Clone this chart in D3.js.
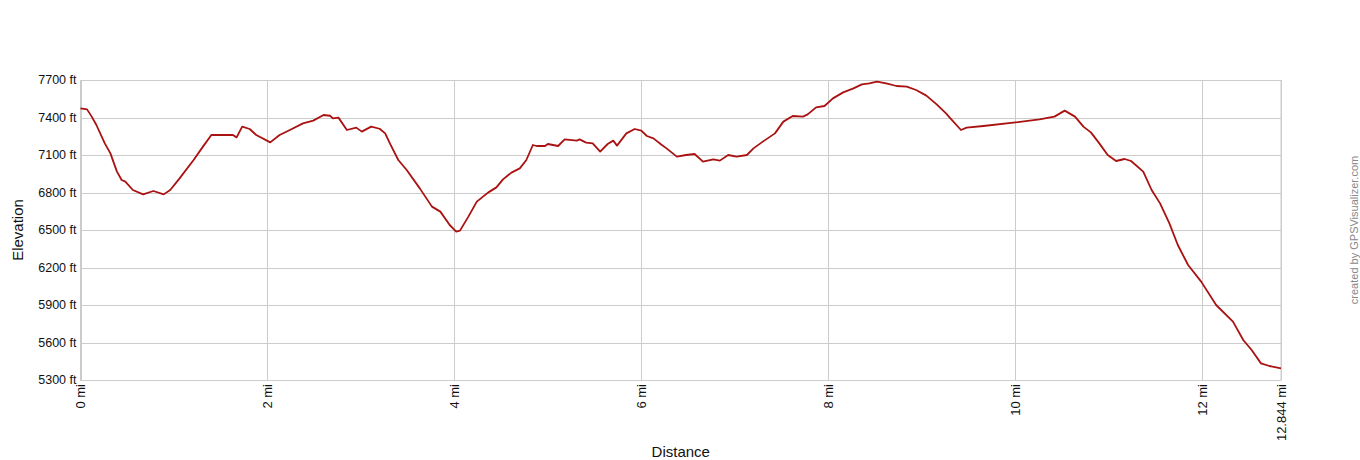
<!DOCTYPE html>
<html>
<head>
<meta charset="utf-8">
<script src="https://cdn.jsdelivr.net/npm/d3@7"></script>
<style>
  body { margin: 0; background: #fff; }
  text { font-family: "Liberation Sans", Arial, sans-serif; }
</style>
</head>
<body>
<div id="chart"></div>
<script>
// distance along the track (mi) and elevation (ft)
const distance = [
  0.00, 0.07, 0.12, 0.17, 0.26, 0.32, 0.39, 0.44, 0.48, 0.56, 0.67, 0.78, 0.89, 0.96,
  1.06, 1.21, 1.31, 1.40, 1.53, 1.63, 1.67, 1.73, 1.81, 1.88, 2.03, 2.13, 2.24, 2.38,
  2.49, 2.60, 2.67, 2.70, 2.76, 2.85, 2.95, 3.01, 3.11, 3.20, 3.26, 3.31, 3.40, 3.49,
  3.63, 3.76, 3.85, 3.95, 4.02, 4.06, 4.15, 4.24, 4.36, 4.45, 4.52, 4.61, 4.70, 4.77,
  4.84, 4.88, 4.97, 5.00, 5.11, 5.18, 5.31, 5.34, 5.41, 5.48, 5.56, 5.64, 5.70, 5.74,
  5.84, 5.93, 6.00, 6.06, 6.13, 6.22, 6.27, 6.38, 6.48, 6.57, 6.66, 6.77, 6.84, 6.93,
  7.02, 7.13, 7.20, 7.30, 7.43, 7.52, 7.62, 7.73, 7.78, 7.87, 7.96, 8.05, 8.16, 8.27,
  8.36, 8.44, 8.52, 8.62, 8.73, 8.84, 8.94, 9.05, 9.16, 9.26, 9.30, 9.42, 9.48, 9.66,
  9.98, 10.26, 10.42, 10.53, 10.64, 10.73, 10.81, 10.90, 10.99, 11.08, 11.17, 11.24,
  11.37, 11.46, 11.55, 11.65, 11.74, 11.85, 11.99, 12.15, 12.33, 12.44, 12.53, 12.63,
  12.72, 12.844
];
const elevation = [
  7473, 7465, 7407, 7340, 7193, 7113, 6967, 6900, 6887, 6820, 6785, 6812, 6785, 6820,
  6913, 7060, 7167, 7260, 7260, 7260, 7241, 7327, 7308, 7260, 7201, 7260, 7300, 7353,
  7375, 7420, 7414, 7393, 7399, 7300, 7319, 7287, 7327, 7310, 7273, 7193, 7060, 6980,
  6833, 6687, 6647, 6540, 6487, 6495, 6607, 6727, 6799, 6841, 6905, 6959, 6993, 7060,
  7180, 7172, 7172, 7188, 7172, 7225, 7215, 7225, 7199, 7193, 7127, 7188, 7215, 7175,
  7273, 7308, 7295, 7252, 7233, 7180, 7153, 7087, 7100, 7108, 7047, 7065, 7055, 7100,
  7087, 7100, 7153, 7207, 7273, 7367, 7412, 7407, 7425, 7481, 7492, 7553, 7601, 7633,
  7665, 7673, 7687, 7673, 7652, 7647, 7620, 7575, 7505, 7433, 7399, 7300, 7319, 7332,
  7359, 7385, 7407, 7455, 7407, 7327, 7281, 7193, 7100, 7052, 7068, 7052,
  6967, 6820, 6713, 6553, 6380, 6220, 6087, 5900, 5767, 5620, 5540, 5433,
  5412, 5393
];

const xTicks = [0, 2, 4, 6, 8, 10, 12, 12.844];
const yTicks = [5300, 5600, 5900, 6200, 6500, 6800, 7100, 7400, 7700];

const points = distance.map((d, i) => ({ dist: d, elev: elevation[i] }));

// Set the dimensions and margins of the graph
const W = 1360, H = 460;
const margin = { top: 80, right: 79, bottom: 80, left: 80.5 };
const width = W - margin.left - margin.right,
  height = H - margin.top - margin.bottom;

const svg = d3
  .select("#chart")
  .append("svg")
  .attr("width", W)
  .attr("height", H);

const x = d3.scaleLinear().domain([0, 12.844]).range([margin.left, margin.left + width]);
const y = d3.scaleLinear().domain([5300, 7700]).range([margin.top + height, margin.top]);

// grid lines
svg
  .append("g")
  .selectAll("line")
  .data(yTicks)
  .enter()
  .append("line")
  .attr("x1", margin.left)
  .attr("x2", margin.left + width)
  .attr("y1", (d) => Math.round(y(d)) + 0.5)
  .attr("y2", (d) => Math.round(y(d)) + 0.5)
  .attr("stroke", "#cccccc");

svg
  .append("g")
  .selectAll("line")
  .data(xTicks)
  .enter()
  .append("line")
  .attr("x1", (d) => Math.round(x(d)) + 0.5)
  .attr("x2", (d) => Math.round(x(d)) + 0.5)
  .attr("y1", margin.top)
  .attr("y2", margin.top + height)
  .attr("stroke", "#cccccc");

// box around plot
svg
  .append("rect")
  .attr("x", margin.left)
  .attr("y", margin.top + 0.5)
  .attr("width", width)
  .attr("height", height)
  .attr("fill", "none")
  .attr("stroke", "#cccccc");

// y tick labels
svg
  .append("g")
  .selectAll("text")
  .data(yTicks)
  .enter()
  .append("text")
  .attr("x", margin.left - 4)
  .attr("y", (d) => y(d))
  .attr("dy", "0.35em")
  .attr("text-anchor", "end")
  .attr("font-size", 12.5)
  .attr("fill", "#111")
  .text((d) => d + " ft");

// x tick labels (rotated)
svg
  .append("g")
  .selectAll("text")
  .data(xTicks)
  .enter()
  .append("text")
  .attr("transform", (d) => "translate(" + x(d) + "," + (margin.top + height + 4) + ") rotate(-90)")
  .attr("dy", "0.35em")
  .attr("text-anchor", "end")
  .attr("font-size", 13)
  .attr("fill", "#111")
  .text((d) => d + " mi");

// elevation line
const line = d3
  .line()
  .x((d) => x(d.dist))
  .y((d) => y(d.elev));

svg
  .append("path")
  .datum(points)
  .attr("d", line)
  .attr("fill", "none")
  .attr("stroke", "#aa1111")
  .attr("stroke-width", 1.8)
  .attr("stroke-linejoin", "round");

// axis titles
svg
  .append("text")
  .attr("x", margin.left + width / 2)
  .attr("y", 457)
  .attr("text-anchor", "middle")
  .attr("font-size", 15)
  .attr("fill", "#111")
  .text("Distance");

svg
  .append("text")
  .attr("transform", "translate(23," + (margin.top + height / 2) + ") rotate(-90)")
  .attr("text-anchor", "middle")
  .attr("font-size", 15)
  .attr("fill", "#111")
  .text("Elevation");

// credit
svg
  .append("text")
  .attr("transform", "translate(1358,230) rotate(-90)")
  .attr("text-anchor", "middle")
  .attr("font-size", 11)
  .attr("fill", "#888")
  .text("created by GPSVisualizer.com");
</script>
</body>
</html>
